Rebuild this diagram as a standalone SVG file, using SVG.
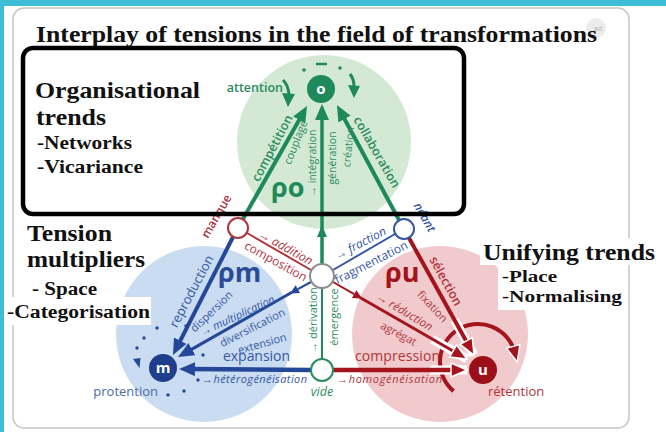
<svg xmlns="http://www.w3.org/2000/svg" width="666" height="432" viewBox="0 0 666 432">
<defs>
<style>
.serif{font-family:"Liberation Serif","Times New Roman",serif;font-weight:bold;fill:#111}
.h{font-size:23.5px}
.s{font-size:18.5px}
.s2{font-size:17px}
.sans{font-family:"Open Sans","Noto Sans",sans-serif}
.lab{font-family:"Open Sans","Noto Sans",sans-serif;text-anchor:middle;dominant-baseline:central}
.g{fill:#2b8c60}
.b{fill:#3656a4}
.r{fill:#b0343c}
.it{font-style:italic}
.sb{font-weight:600}
.big{font-family:"Open Sans","Noto Sans",sans-serif;font-weight:bold;font-size:27px}
.lg{stroke:#1e8a5c;fill:none}
.lb{stroke:#24479a;fill:none}
.lr{stroke:#a3141d;fill:none}
.casing{stroke:#fff;stroke-width:9;fill:none}
.node{fill:#fff;stroke-width:2}
.dot{fill:#24479a}
.nl{font-family:"Open Sans","Noto Sans",sans-serif;font-weight:bold;font-size:15px;fill:#fff;text-anchor:middle;dominant-baseline:central}
</style>
<marker id="ahG" markerUnits="userSpaceOnUse" markerWidth="20" markerHeight="16" refX="6" refY="7" orient="auto"><path d="M0,0 L16,7 L0,14 Z" fill="#1e8a5c"/></marker>
<marker id="ahB" markerUnits="userSpaceOnUse" markerWidth="20" markerHeight="16" refX="6" refY="7" orient="auto"><path d="M0,0 L16,7 L0,14 Z" fill="#24479a"/></marker>
<marker id="ahR" markerUnits="userSpaceOnUse" markerWidth="22" markerHeight="18" refX="7" refY="8" orient="auto"><path d="M1,1 L17,8 L1,15 Z" fill="#a3141d" stroke="#fff" stroke-width="1.5"/></marker>
</defs>

<rect width="666" height="432" fill="#fff"/>
<rect width="666" height="6" fill="#3fbdd7"/>
<rect width="4" height="432" fill="#3fbdd7"/>
<rect x="13" y="8" width="616" height="420" rx="11" fill="#fff" stroke="#c6c6c6" stroke-width="1.5"/>

<g id="icon"><circle cx="596" cy="28" r="10" fill="#ececec"/><text x="598" y="31" font-family="Liberation Sans, sans-serif" font-size="7" fill="#b5b5b5" text-anchor="middle">ad</text></g>
<text class="serif" x="36" y="42" font-size="23.5" textLength="561" lengthAdjust="spacingAndGlyphs">Interplay of tensions in the field of transformations</text>

<g id="fields">
<circle cx="324" cy="142" r="87" fill="#d3e9d4"/>
<circle cx="204" cy="334" r="88" fill="#c9dcf1"/>
<circle cx="440" cy="334" r="88" fill="#f0cacc"/>
</g>

<g id="connectors">
<line class="lg" x1="322" y1="359" x2="322" y2="288" stroke-width="2"/>
<line class="lg" x1="322" y1="264" x2="322" y2="114" stroke-width="3.5" marker-end="url(#ahG)"/>
<path d="M322,225 L317,237 L327,237 Z" fill="#1e8a5c"/>
<line class="lg" x1="243" y1="219" x2="302.1" y2="114.7" stroke-width="4" marker-end="url(#ahG)"/>
<line class="lg" x1="399" y1="220" x2="341.7" y2="113.8" stroke-width="4" marker-end="url(#ahG)"/>

<line x1="247" y1="233" x2="311" y2="270" stroke="#b0343c" stroke-width="2"/>
<line x1="395" y1="234" x2="333" y2="270" stroke="#3656a4" stroke-width="2"/>

<line class="lb" x1="233" y1="237" x2="177.5" y2="346.1" stroke-width="4" marker-end="url(#ahB)"/>
<line class="lb" x1="311" y1="282" x2="297.8" y2="289.1" stroke-width="2"/>
<path d="M290,293.5 L300,293 L295.6,285.2 Z" fill="#24479a"/>
<line class="lb" x1="292" y1="292.3" x2="186.7" y2="352.1" stroke-width="3" marker-end="url(#ahB)"/>
<line class="lb" x1="311" y1="370" x2="189" y2="369.1" stroke-width="4.5" marker-end="url(#ahB)"/>

<path class="lr" d="M453.6,391.1 A38,38 0 1 1 514.7,352.2" stroke-width="4" marker-end="url(#ahR)"/>
<line class="casing" x1="454.6" y1="320" x2="474" y2="355"/>
<line class="casing" x1="432.3" y1="339.1" x2="467" y2="359"/>
<line class="casing" x1="430" y1="370" x2="467" y2="370"/>
<line class="lr" x1="409" y1="238" x2="469.1" y2="346.3" stroke-width="4" marker-end="url(#ahR)"/>
<line class="lr" x1="333" y1="282" x2="354.2" y2="294.1" stroke-width="2"/>
<path d="M362,298.6 L351.96,298 L356.4,290.2 Z" fill="#a3141d"/>
<line class="lr" x1="360" y1="297.5" x2="458.3" y2="354" stroke-width="3" marker-end="url(#ahR)"/>
<line class="lr" x1="333" y1="370" x2="457" y2="370" stroke-width="4.5" marker-end="url(#ahR)"/>

<path class="lg" d="M283,80 Q288,85 289,94" stroke-width="3"/>
<path d="M282,93 L295,94 L288,107 Z" fill="#1e8a5c"/>
<path class="lg" d="M350,74 Q354,79 354,86" stroke-width="3"/>
<path d="M348,85 L360,86 L354,98 Z" fill="#1e8a5c"/>
<line class="lg" x1="316" y1="64" x2="327" y2="64" stroke-width="2.5"/>
<circle cx="304" cy="70" r="1.8" fill="#1e8a5c"/>
<circle cx="340" cy="68" r="1.8" fill="#1e8a5c"/>

<path d="M133,359 L140.5,358 L139.5,368 Z" fill="#24479a"/>
<circle class="dot" cx="157" cy="328" r="1.7"/>
<circle class="dot" cx="144" cy="338" r="1.7"/>
<circle class="dot" cx="137" cy="348" r="1.7"/>
<circle class="dot" cx="186" cy="326" r="1.7"/>
<circle class="dot" cx="203" cy="355" r="1.7"/>
<circle class="dot" cx="198" cy="380" r="1.7"/>
<circle class="dot" cx="168" cy="395" r="1.7"/>
<circle class="dot" cx="184" cy="391" r="1.7"/>
</g>

<g id="labels">
<text class="sans g sb" x="283" y="92" font-size="12.5" text-anchor="end">attention</text>
<text class="lab g sb" font-size="12.5" transform="translate(272,148) rotate(-62)">compétition</text>
<text class="lab g" font-size="11" transform="translate(295,142) rotate(-68)">couplage</text>
<text class="lab g" font-size="10.5" transform="translate(312,163) rotate(-90)">→ intégration</text>
<text class="lab g" font-size="10.5" transform="translate(332,158) rotate(-90)">génération</text>
<text class="lab g" font-size="10.5" transform="translate(348,147) rotate(-84)">création</text>
<text class="lab g sb" font-size="12.5" transform="translate(377,152) rotate(60)">collaboration</text>
<text class="big" x="271" y="197" fill="#1e8a5c" font-size="26">ρo</text>
<text class="lab g" font-size="11" transform="translate(312,320) rotate(-90)">→ dérivation</text>
<text class="lab g" font-size="11" transform="translate(333,317) rotate(-90)">émergence</text>
<text class="sans g it" x="322" y="396" font-size="12.5" text-anchor="middle">vide</text>

<text class="lab r sb" font-size="12" transform="translate(216,216) rotate(-60)">manque</text>
<text class="lab r it" font-size="12" transform="translate(286,247) rotate(29)">→ addition</text>
<text class="lab r" font-size="12" transform="translate(276,261) rotate(29)">composition</text>
<text class="big" x="385" y="282" fill="#a4121c">ρu</text>
<text class="lab r sb" font-size="12.5" transform="translate(446,281) rotate(61)">sélection</text>
<text class="lab r" font-size="11" transform="translate(433,306) rotate(47)">fixation</text>
<text class="lab r it" font-size="11.5" transform="translate(405,311) rotate(31)">→ réduction</text>
<text class="lab r" font-size="11" transform="translate(399,333) rotate(28)">agrégat</text>
<text class="sans r" x="355" y="361" font-size="14" textLength="85">compression</text>
<text class="sans r it" x="337" y="383" font-size="11" textLength="105">→homogénéisation</text>
<text class="sans r" x="488" y="396" font-size="13" fill="#b8414a">rétention</text>

<text class="lab b sb it" font-size="12" transform="translate(425,217) rotate(60)">néant</text>
<text class="lab b it" font-size="12" transform="translate(360,243) rotate(-28)">→ fraction</text>
<text class="lab b" font-size="12" transform="translate(371,262) rotate(-27)">fragmentation</text>
<text class="big" x="218" y="282" fill="#2a4c98">ρm</text>
<text class="lab b" font-size="13" transform="translate(191,291) rotate(-62)">reproduction</text>
<text class="lab b" font-size="11" transform="translate(211,311) rotate(-44)">dispersion</text>
<text class="lab b it" font-size="11" transform="translate(237,315) rotate(-25)">→ multiplication</text>
<text class="lab b" font-size="11" transform="translate(252,327) rotate(-27)">diversification</text>
<text class="lab b" font-size="11" transform="translate(262,343) rotate(-16)">extension</text>
<text class="sans b" x="223" y="361" font-size="14" textLength="67">expansion</text>
<text class="sans b it" x="202" y="383" font-size="11" textLength="105">→hétérogénéisation</text>
<text class="sans" x="158" y="396" font-size="13" fill="#4d6aa8" text-anchor="end">protention</text>
</g>

<g id="o"><circle cx="321" cy="89" r="14" fill="#1e8a5c"/><text class="nl" x="321" y="88">o</text></g>
<g id="manque-node"><circle class="node" cx="238" cy="228" r="10" stroke="#b0343c"/></g>
<g id="neant-node"><circle class="node" cx="404" cy="229" r="10" stroke="#3656a4"/></g>
<g id="center-node"><circle class="node" cx="322" cy="276" r="12" stroke="#8a8a8a"/></g>
<g id="vide-node"><circle class="node" cx="322" cy="370" r="11" stroke="#2b8c60"/></g>
<g id="m"><circle cx="163" cy="368" r="14" fill="#1f3f8a"/><text class="nl" x="163" y="367">m</text></g>
<g id="u"><circle cx="483" cy="370" r="14" fill="#9a0f18"/><text class="nl" x="483" y="369">u</text></g>

<g id="legend-org">
<text class="serif h" x="35" y="98" textLength="165" lengthAdjust="spacingAndGlyphs">Organisational</text>
<text class="serif h" x="36" y="125" textLength="70" lengthAdjust="spacingAndGlyphs">trends</text>
<text class="serif s" x="37" y="149" textLength="95" lengthAdjust="spacingAndGlyphs">-Networks</text>
<text class="serif s" x="37" y="173" textLength="106" lengthAdjust="spacingAndGlyphs">-Vicariance</text>
<rect x="23" y="48" width="441" height="166" rx="10" fill="none" stroke="#000" stroke-width="4.5"/>
</g>

<g id="legend-mult">
<rect x="4" y="297" width="147" height="28" fill="#fff"/>
<text class="serif h" x="27" y="241" textLength="85" lengthAdjust="spacingAndGlyphs">Tension</text>
<text class="serif h" x="27" y="267" textLength="118" lengthAdjust="spacingAndGlyphs">multipliers</text>
<text class="serif s" x="32" y="295" textLength="65" lengthAdjust="spacingAndGlyphs">- Space</text>
<text class="serif s" x="7" y="318" textLength="143" lengthAdjust="spacingAndGlyphs">-Categorisation</text>
</g>

<g id="legend-unif">
<rect x="480" y="238" width="180" height="27" fill="#fff"/>
<rect x="498" y="265" width="126" height="45" fill="#fff"/>
<text class="serif h" x="483" y="260" textLength="172" lengthAdjust="spacingAndGlyphs">Unifying trends</text>
<text class="serif s2" x="502" y="282" textLength="55" lengthAdjust="spacingAndGlyphs">-Place</text>
<text class="serif s2" x="502" y="302" textLength="120" lengthAdjust="spacingAndGlyphs">-Normalising</text>
</g>
</svg>
